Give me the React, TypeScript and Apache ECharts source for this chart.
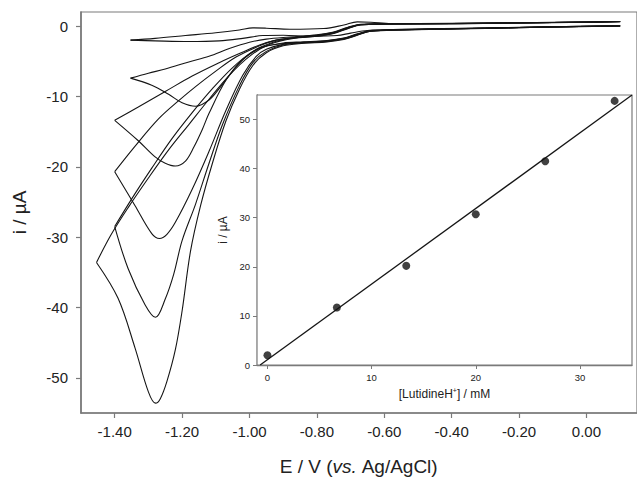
import React, { useEffect, useRef } from "react";
import * as echarts from "echarts";

// ---- Main plot: cyclic voltammograms (E in V, i in µA) ----
const eTicks = [-1.4, -1.2, -1.0, -0.8, -0.6, -0.4, -0.2, 0.0];
const iTicks = [-50, -40, -30, -20, -10, 0];

const cv0Fwd = [[0.10, 0.0], [-0.10, -0.12], [-0.30, -0.28], [-0.55, -0.47], [-0.65, -0.62], [-0.70, -1.0], [-0.74, -1.35], [-0.82, -1.45], [-0.90, -1.3], [-0.96, -1.35], [-1.02, -1.75], [-1.09, -2.1], [-1.18, -2.2], [-1.28, -2.1], [-1.353, -2.0]];
const cv0Rev = [[-1.353, -2.0], [-1.28, -1.75], [-1.19, -1.35], [-1.10, -0.95], [-1.03, -0.55], [-0.99, -0.25], [-0.95, -0.3], [-0.88, -0.45], [-0.78, -0.35], [-0.72, 0.15], [-0.68, 0.6], [-0.64, 0.55], [-0.58, 0.35], [-0.40, 0.35], [-0.20, 0.45], [0.0, 0.55], [0.10, 0.62]];

const cv1Fwd = [[0.10, 0.05], [-0.10, -0.1], [-0.30, -0.28], [-0.55, -0.5], [-0.64, -0.65], [-0.68, -1.1], [-0.72, -1.7], [-0.77, -2.05], [-0.84, -2.25], [-0.90, -2.4], [-0.96, -3.0], [-1.00, -4.0], [-1.03, -5.2], [-1.06, -7.0], [-1.09, -8.9], [-1.12, -10.5], [-1.16, -11.4], [-1.20, -10.9], [-1.24, -9.7], [-1.29, -8.4], [-1.353, -7.4]];
const cv1Rev = [[-1.353, -7.4], [-1.30, -6.7], [-1.25, -6.1], [-1.18, -5.1], [-1.12, -4.3], [-1.06, -3.2], [-1.00, -2.3], [-0.95, -1.85], [-0.88, -1.55], [-0.80, -1.25], [-0.75, -0.85], [-0.71, -0.2], [-0.67, 0.25], [-0.60, 0.32], [-0.40, 0.38], [-0.20, 0.48], [0.0, 0.58], [0.10, 0.66]];

const cv2Fwd = [[0.10, 0.04], [-0.10, -0.11], [-0.30, -0.3], [-0.55, -0.52], [-0.64, -0.68], [-0.68, -1.15], [-0.72, -1.75], [-0.77, -2.1], [-0.84, -2.3], [-0.90, -2.5], [-0.97, -3.1], [-1.02, -4.8], [-1.07, -7.7], [-1.12, -12.4], [-1.14, -14.7], [-1.165, -17.2], [-1.19, -19.2], [-1.22, -19.9], [-1.25, -19.5], [-1.28, -18.6], [-1.33, -16.3], [-1.40, -13.4]];
const cv2Rev = [[-1.40, -13.4], [-1.33, -11.5], [-1.25, -9.3], [-1.17, -7.1], [-1.09, -5.2], [-1.03, -3.9], [-0.97, -2.7], [-0.92, -2.0], [-0.86, -1.6], [-0.80, -1.3], [-0.75, -0.9], [-0.71, -0.25], [-0.67, 0.22], [-0.60, 0.3], [-0.40, 0.37], [-0.20, 0.47], [0.0, 0.57], [0.10, 0.65]];

const cv3Fwd = [[0.10, 0.03], [-0.10, -0.12], [-0.30, -0.31], [-0.55, -0.53], [-0.64, -0.7], [-0.68, -1.2], [-0.72, -1.8], [-0.77, -2.15], [-0.84, -2.35], [-0.90, -2.6], [-0.95, -3.3], [-0.98, -4.3], [-1.02, -7.0], [-1.07, -12.0], [-1.12, -17.8], [-1.17, -23.2], [-1.22, -27.9], [-1.245, -29.6], [-1.267, -30.2], [-1.29, -29.5], [-1.34, -25.5], [-1.40, -20.7]];
const cv3Rev = [[-1.40, -20.7], [-1.34, -17.1], [-1.27, -13.2], [-1.21, -10.6], [-1.16, -8.6], [-1.10, -6.4], [-1.04, -4.4], [-0.98, -3.0], [-0.93, -2.1], [-0.87, -1.65], [-0.80, -1.35], [-0.75, -0.95], [-0.71, -0.3], [-0.67, 0.2], [-0.60, 0.3], [-0.40, 0.36], [-0.20, 0.46], [0.0, 0.56], [0.10, 0.64]];

const cv4Fwd = [[0.10, 0.02], [-0.10, -0.13], [-0.30, -0.32], [-0.55, -0.55], [-0.64, -0.72], [-0.68, -1.25], [-0.72, -1.85], [-0.77, -2.2], [-0.84, -2.4], [-0.90, -2.7], [-0.95, -3.6], [-0.99, -5.2], [-1.03, -8.5], [-1.08, -14.0], [-1.12, -19.5], [-1.16, -25.3], [-1.20, -30.5], [-1.225, -35.3], [-1.25, -38.8], [-1.279, -41.4], [-1.31, -39.6], [-1.36, -34.5], [-1.40, -28.5]];
const cv4Rev = [[-1.40, -28.5], [-1.35, -24.6], [-1.29, -20.2], [-1.23, -16.0], [-1.17, -12.3], [-1.11, -8.9], [-1.05, -5.9], [-0.99, -3.6], [-0.93, -2.3], [-0.87, -1.7], [-0.80, -1.4], [-0.75, -1.0], [-0.71, -0.35], [-0.67, 0.18], [-0.60, 0.29], [-0.40, 0.35], [-0.20, 0.45], [0.0, 0.56], [0.10, 0.64]];

const cv5Fwd = [[0.10, 0.01], [-0.10, -0.14], [-0.30, -0.33], [-0.55, -0.56], [-0.64, -0.74], [-0.68, -1.3], [-0.72, -1.9], [-0.77, -2.25], [-0.84, -2.45], [-0.90, -2.8], [-0.95, -3.8], [-0.99, -5.6], [-1.03, -9.0], [-1.07, -13.5], [-1.11, -19.5], [-1.145, -25.5], [-1.175, -32.0], [-1.20, -40.5], [-1.22, -46.0], [-1.245, -50.5], [-1.265, -53.0], [-1.279, -53.6], [-1.30, -52.0], [-1.34, -45.7], [-1.39, -38.7], [-1.454, -33.6]];
const cv5Rev = [[-1.454, -33.6], [-1.41, -29.6], [-1.36, -25.8], [-1.30, -21.6], [-1.24, -17.6], [-1.18, -14.0], [-1.12, -10.4], [-1.06, -7.0], [-1.00, -4.3], [-0.94, -2.6], [-0.87, -1.75], [-0.80, -1.45], [-0.75, -1.05], [-0.71, -0.4], [-0.67, 0.15], [-0.60, 0.28], [-0.40, 0.34], [-0.20, 0.44], [0.0, 0.55], [0.10, 0.63]];

const cvCurves = [
  [cv0Fwd, cv0Rev],
  [cv1Fwd, cv1Rev],
  [cv2Fwd, cv2Rev],
  [cv3Fwd, cv3Rev],
  [cv4Fwd, cv4Rev],
  [cv5Fwd, cv5Rev],
];

// ---- Inset: peak current vs. [LutidineH+] ----
const concentrations = [0, 6.67, 13.33, 20, 26.67, 33.33];
const peakCurrents = [2.0, 11.7, 20.2, 30.7, 41.5, 53.8];
const fitSlope = 1.54;
const fitIntercept = 1.08;
const fitXRange = [-0.7, 35];
const insetXTicks = [0, 10, 20, 30];
const insetYTicks = [0, 10, 20, 30, 40, 50];

const AXIS = "#7a7a7a";
const TEXT = "#222";
const LINE = "#151515";
const FONT = "'Liberation Sans', Arial, sans-serif";

export default function App() {
  const ref = useRef<HTMLDivElement>(null);
  useEffect(() => {
    if (!ref.current) return;
    const chart = echarts.init(ref.current, undefined, { renderer: "svg" });
    const cvSeries: any[] = [];
    cvCurves.forEach((pair, k) => {
      pair.forEach((branch, j) => {
        cvSeries.push({
          type: "line",
          name: `cv${k}-${j}`,
          xAxisIndex: 0,
          yAxisIndex: 0,
          data: branch,
          showSymbol: false,
          smooth: 0.35,
          lineStyle: { color: LINE, width: 1.1 },
          z: 2,
        });
      });
    });
    const scatterData = concentrations.map((c, idx) => [c, peakCurrents[idx]]);
    const fitData = fitXRange.map((x) => [x, fitSlope * x + fitIntercept]);

    chart.setOption({
      animation: false,
      backgroundColor: "#fff",
      textStyle: { fontFamily: FONT },
      grid: [
        {
          left: 81, top: 12, right: -1, bottom: 67,
          show: true, borderColor: AXIS, borderWidth: 1.2, backgroundColor: "transparent",
        },
        {
          left: 257, top: 95, right: 5, bottom: 116,
          show: true, borderColor: AXIS, borderWidth: 1.2, backgroundColor: "#fff", z: 5,
        },
      ],
      xAxis: [
        {
          type: "value", gridIndex: 0, min: -1.5, max: 0.15,
          name: "E / V ({it|vs.} Ag/AgCl)", nameLocation: "middle", nameGap: 44,
          nameTextStyle: { fontSize: 19, color: TEXT, fontFamily: FONT, rich: { it: { fontStyle: "italic", fontSize: 19, color: TEXT, fontFamily: FONT } } },
          axisLine: { show: true, onZero: false, lineStyle: { color: AXIS, width: 1.6 } },
          axisTick: { show: true, length: 5, customValues: eTicks, lineStyle: { color: AXIS, width: 1.2 } },
          axisLabel: { customValues: eTicks, formatter: (v: number) => v.toFixed(2), fontSize: 15, color: TEXT, margin: 11, fontFamily: FONT },
          splitLine: { show: false },
        },
        {
          type: "value", gridIndex: 1, min: -1, max: 35,
          name: "[LutidineH{sup|+}] / mM", nameLocation: "middle", nameGap: 22,
          nameTextStyle: { fontSize: 12, color: TEXT, fontFamily: FONT, lineHeight: 14, rich: { sup: { fontSize: 7, verticalAlign: "top", lineHeight: 14, color: TEXT, fontFamily: FONT } } },
          axisLine: { show: true, onZero: false, lineStyle: { color: AXIS, width: 1.3 } },
          axisTick: { show: true, length: 4, customValues: insetXTicks, lineStyle: { color: AXIS, width: 1 } },
          axisLabel: { customValues: insetXTicks, fontSize: 9.5, color: TEXT, margin: 7, fontFamily: FONT },
          splitLine: { show: false },
        },
      ],
      yAxis: [
        {
          type: "value", gridIndex: 0, min: -55, max: 2,
          name: "i / µA", nameLocation: "middle", nameGap: 52, nameRotate: 90,
          nameTextStyle: { fontSize: 19, color: TEXT, fontFamily: FONT },
          axisLine: { show: true, onZero: false, lineStyle: { color: AXIS, width: 1.6 } },
          axisTick: { show: true, length: 5, customValues: iTicks, lineStyle: { color: AXIS, width: 1.2 } },
          axisLabel: { customValues: iTicks, fontSize: 15, color: TEXT, margin: 13, fontFamily: FONT },
          splitLine: { show: false },
        },
        {
          type: "value", gridIndex: 1, min: 0, max: 55,
          name: "i / µA", nameLocation: "middle", nameGap: 24, nameRotate: 90,
          nameTextStyle: { fontSize: 12, color: TEXT, fontFamily: FONT },
          axisLine: { show: true, onZero: false, lineStyle: { color: AXIS, width: 1.3 } },
          axisTick: { show: true, length: 4, customValues: insetYTicks, lineStyle: { color: AXIS, width: 1 } },
          axisLabel: { customValues: insetYTicks, fontSize: 9.5, color: TEXT, margin: 7, fontFamily: FONT },
          splitLine: { show: false },
        },
      ],
      series: [
        ...cvSeries,
        {
          type: "line", name: "fit", xAxisIndex: 1, yAxisIndex: 1, data: fitData,
          showSymbol: false, lineStyle: { color: LINE, width: 1.3 }, z: 6,
        },
        {
          type: "scatter", name: "peaks", xAxisIndex: 1, yAxisIndex: 1, data: scatterData,
          symbol: "circle", symbolSize: 8, itemStyle: { color: "#111" }, z: 7,
        },
      ],
    });
    return () => chart.dispose();
  }, []);
  return (
    <div
      ref={ref}
      style={{ position: "fixed", left: 0, top: 0, width: 637, height: 481, background: "#fff" }}
    />
  );
}
